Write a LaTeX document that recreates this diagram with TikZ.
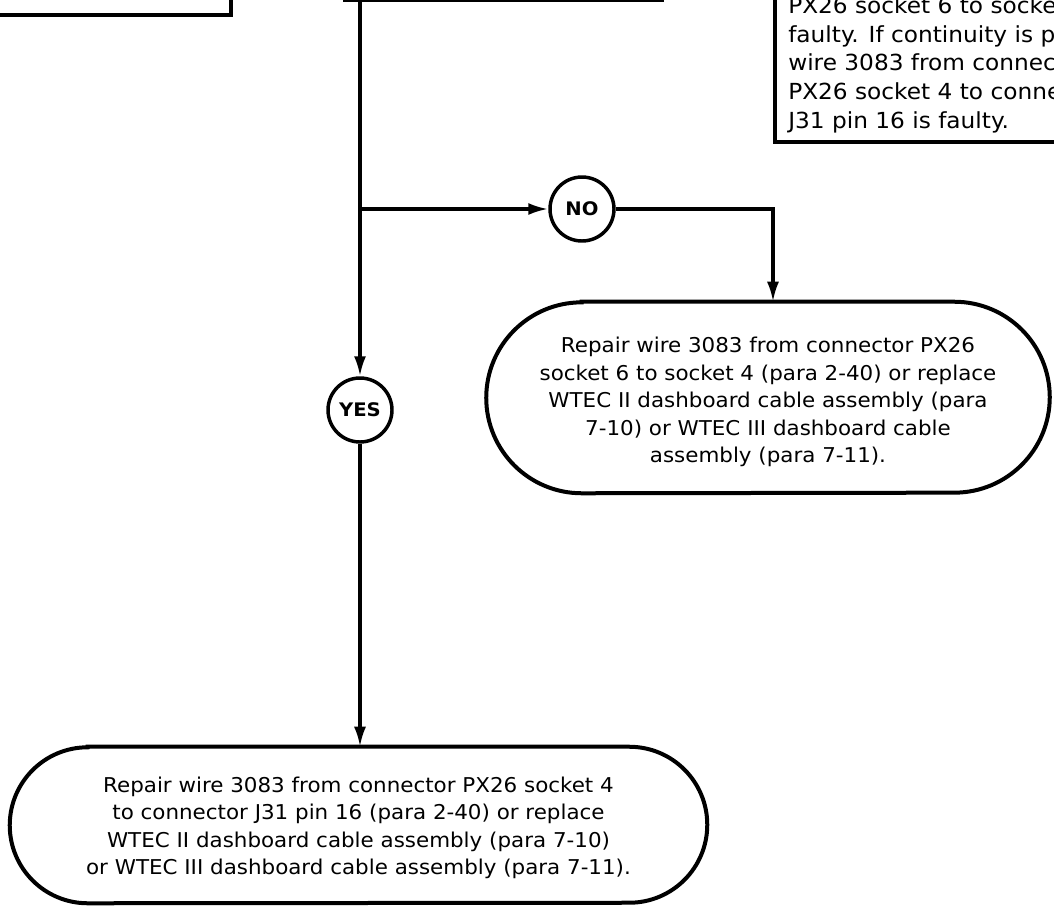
\documentclass[tikz,border=0pt]{standalone}
\usepackage{fontspec}
\setmainfont{DejaVu Sans}[FakeStretch=1.05]
\usetikzlibrary{arrows.meta}
\tikzset{
  conn/.style={line width=2.4pt, -{Latex[length=15pt,width=9pt]}},
  plain/.style={line width=2.4pt},
  boxline/.style={line width=3pt},
  circ/.style={circle, draw, line width=2.6pt, minimum size=48pt, inner sep=0pt,
    font=\bfseries\fontsize{14}{16}\selectfont},
  shapebox/.style={inner sep=0pt},
  txt/.style={align=center, font=\fontsize{15.3}{20.6}\selectfont, inner sep=0pt},
  ltxt/.style={align=left, font=\fontsize{16.6}{21.4}\selectfont, inner sep=0pt},
}
\begin{document}
\begin{tikzpicture}[x=0.75pt,y=-0.75pt]
\useasboundingbox (0,0) rectangle (1054,907);
\clip (0,0) rectangle (1054,907);
% partially visible boxes at the top
\node[draw, boxline, minimum width=225pt, minimum height=75pt, anchor=south east] (lbox) at (233,17) {};
\node[draw, boxline, minimum width=238pt, minimum height=75pt, anchor=south west] (cbox) at (343,2) {};
\node[draw, boxline, minimum width=300pt, minimum height=190pt, anchor=south west] (rbox) at (773,144) {};
\node[ltxt, anchor=base west] (rtext) at (788,128) {PX26 socket 6 to socket 4 is\\faulty. If continuity is present,\\wire 3083 from connector\\PX26 socket 4 to connector\\J31 pin 16 is faulty.};
% decision circles
\coordinate (j1) at (360,209);
\node[circ] (no) at (582,209) {NO};
\node[circ] (yes) at (360,410) {YES};
% right terminal
\node[shapebox, minimum width=422.25pt, minimum height=143.25pt] (rterm) at (768,397.5) {};
\draw[boxline] ([xshift=71.6pt]rterm.north west) -- ([xshift=-71.6pt]rterm.north east)
  arc[start angle=90, end angle=-90, radius=71.6pt]
  -- ([xshift=71.6pt]rterm.south west)
  arc[start angle=270, end angle=90, radius=71.6pt] -- cycle;
\node[txt] (rtxt) at ([yshift=-3.4pt]rterm.center)
  {Repair wire 3083 from connector PX26\\socket 6 to socket 4 (para 2-40) or replace\\WTEC II dashboard cable assembly (para\\7-10) or WTEC III dashboard cable\\assembly (para 7-11).};
% bottom terminal
\node[shapebox, minimum width=522.75pt, minimum height=117pt] (bterm) at (358.5,825) {};
\draw[boxline] ([xshift=58.5pt]bterm.north west) -- ([xshift=-58.5pt]bterm.north east)
  arc[start angle=90, end angle=-90, radius=58.5pt]
  -- ([xshift=58.5pt]bterm.south west)
  arc[start angle=270, end angle=90, radius=58.5pt] -- cycle;
\node[txt] (btxt) at ([yshift=-2pt]bterm.center)
  {Repair wire 3083 from connector PX26 socket 4\\to connector J31 pin 16 (para 2-40) or replace\\WTEC II dashboard cable assembly (para 7-10)\\or WTEC III dashboard cable assembly (para 7-11).};
% connectors
\draw[plain] (cbox.south -| j1) -- (j1);
\draw[conn] (j1) -- (yes);
\draw[conn] (j1) -- (no);
\draw[conn] (no.east) -| ([xshift=3.75pt]rterm.north);
\draw[conn] (yes) -- (bterm.north -| yes);
\end{tikzpicture}
\end{document}
